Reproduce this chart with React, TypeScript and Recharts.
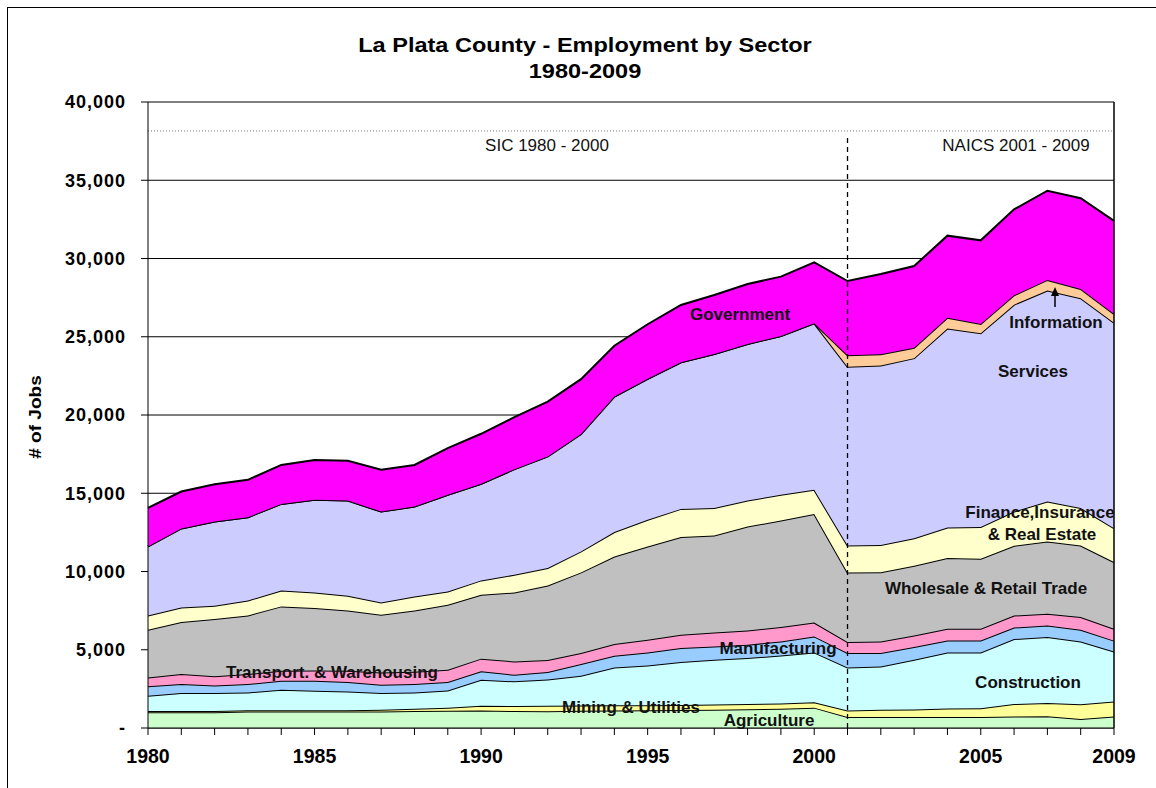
import React from 'react'
import {
  AreaChart, Area, XAxis, YAxis, CartesianGrid, ReferenceLine,
} from 'recharts'

// La Plata County employment by sector, 1980-2009 (jobs)
const years = [
  1980, 1981, 1982, 1983, 1984, 1985, 1986, 1987, 1988, 1989,
  1990, 1991, 1992, 1993, 1994, 1995, 1996, 1997, 1998, 1999,
  2000, 2001, 2002, 2003, 2004, 2005, 2006, 2007, 2008, 2009,
]

const agriculture = [
  1000, 1000, 1000, 1050, 1050, 1050, 1060, 1060, 1080, 1100,
  1120, 1080, 1070, 1100, 1120, 1130, 1150, 1170, 1200, 1230,
  1300, 700, 700, 710, 700, 700, 740, 750, 570, 740,
]
const mining = [
  80, 80, 80, 80, 80, 80, 80, 100, 150, 200,
  300, 330, 350, 330, 330, 330, 320, 330, 340, 340,
  340, 420, 460, 480, 540, 560, 790, 850, 940, 960,
]
const construction = [
  980, 1150, 1150, 1140, 1320, 1250, 1200, 1070, 1040, 1100,
  1660, 1570, 1680, 1910, 2420, 2540, 2740, 2860, 2930, 3070,
  3190, 2750, 2770, 3170, 3590, 3570, 4150, 4210, 4020, 3190,
]
const manufacturing = [
  600, 580, 490, 540, 570, 640, 600, 540, 540, 540,
  540, 420, 480, 750, 750, 830, 900, 850, 850, 890,
  1020, 920, 860, 810, 760, 760, 740, 740, 750, 690,
]
const transport = [
  570, 640, 580, 640, 640, 660, 720, 780, 790, 780,
  810, 850, 760, 700, 740, 810, 850, 890, 910, 920,
  890, 700, 740, 740, 750, 750, 770, 750, 810, 760,
]
const trade = [
  3050, 3320, 3660, 3740, 4110, 3980, 3850, 3690, 3910, 4150,
  4080, 4410, 4760, 5150, 5600, 5960, 6240, 6200, 6640, 6810,
  6930, 4450, 4430, 4450, 4520, 4470, 4450, 4620, 4570, 4260,
]
const fire = [
  910, 930, 850, 960, 1020, 1000, 940, 780, 890, 850,
  920, 1130, 1120, 1340, 1560, 1700, 1800, 1750, 1660, 1640,
  1550, 1720, 1730, 1770, 1950, 2030, 2190, 2550, 2390, 2170,
]
const services = [
  4410, 5050, 5380, 5320, 5530, 5920, 6080, 5810, 5750, 6180,
  6170, 6750, 7130, 7510, 8660, 9010, 9370, 9850, 10010, 10150,
  10640, 11430, 11470, 11500, 12710, 12380, 13220, 13480, 13410, 13130,
]
const information = [
  0, 0, 0, 0, 0, 0, 0, 0, 0, 0,
  0, 0, 0, 0, 0, 0, 0, 0, 0, 0,
  0, 730, 720, 670, 700, 600, 600, 680, 590, 560,
]
const government = [
  2460, 2360, 2390, 2390, 2490, 2550, 2540, 2670, 2660, 2980,
  3200, 3320, 3510, 3500, 3250, 3490, 3660, 3770, 3830, 3790,
  3900, 4740, 5130, 5220, 5240, 5340, 5490, 5700, 5800, 5940,
]

const yTicks = [0, 5000, 10000, 15000, 20000, 25000, 30000, 35000, 40000]
const labeledYears = [1980, 1985, 1990, 1995, 2000, 2005, 2009]

const series = [
  { key: 'agriculture', name: 'Agriculture', values: agriculture, fill: '#CCFFCC' },
  { key: 'mining', name: 'Mining & Utilities', values: mining, fill: '#FFFF99' },
  { key: 'construction', name: 'Construction', values: construction, fill: '#CCFFFF' },
  { key: 'manufacturing', name: 'Manufacturing', values: manufacturing, fill: '#99CCFF' },
  { key: 'transport', name: 'Transport. & Warehousing', values: transport, fill: '#FF99CC' },
  { key: 'trade', name: 'Wholesale & Retail Trade', values: trade, fill: '#C0C0C0' },
  { key: 'fire', name: 'Finance,Insurance & Real Estate', values: fire, fill: '#FFFFCC' },
  { key: 'services', name: 'Services', values: services, fill: '#CCCCFF' },
  { key: 'information', name: 'Information', values: information, fill: '#FFCC99' },
  { key: 'government', name: 'Government', values: government, fill: '#FF00FF' },
]

const data = years.map((year, i) => {
  const row: Record<string, number> = { year }
  series.forEach(s => { row[s.key] = s.values[i] })
  return row
})

const FONT = 'Arial, "Liberation Sans", sans-serif'

function fmtY(v: number) {
  if (v === 0) return '-'
  return v.toLocaleString('en-US')
}

// in-chart annotations (centre point in page pixels)
const notes = [
  { text: 'Government', x: 740, y: 314 },
  { text: 'Information', x: 1056, y: 322 },
  { text: 'Services', x: 1033, y: 371 },
  { text: 'Finance,Insurance', x: 1040, y: 512 },
  { text: '& Real Estate', x: 1042, y: 534 },
  { text: 'Wholesale & Retail Trade', x: 986, y: 588 },
  { text: 'Manufacturing', x: 778, y: 648 },
  { text: 'Transport. & Warehousing', x: 332, y: 672 },
  { text: 'Construction', x: 1028, y: 682 },
  { text: 'Mining & Utilities', x: 631, y: 707 },
  { text: 'Agriculture', x: 769, y: 720 },
]

const abs = (x: number, y: number): React.CSSProperties => ({
  position: 'absolute', left: x, top: y, transform: 'translate(-50%, -50%)',
  whiteSpace: 'nowrap', lineHeight: 1, fontFamily: FONT,
})

export default function App() {
  return (
    <div style={{ position: 'absolute', left: 0, top: 0, width: 1156, height: 788, overflow: 'hidden', background: '#fff' }}>
      {/* outer chart frame */}
      <div style={{ position: 'absolute', left: 7, top: 7, width: 1200, height: 850, border: '1px solid #000' }} />

      <AreaChart
        width={1156}
        height={788}
        data={data}
        margin={{ top: 102, right: 42, bottom: 0, left: 48 }}
        style={{ position: 'absolute', left: 0, top: 0 }}
      >
        <CartesianGrid vertical={false} stroke="#000" strokeWidth={1} />
        <XAxis
          dataKey="year"
          type="number"
          domain={[1980, 2009]}
          ticks={years}
          interval={0}
          height={60}
          tickSize={7}
          tickMargin={14}
          stroke="#000"
          tickFormatter={(v: number) => (labeledYears.includes(v) ? String(v) : '')}
          tick={{ fontSize: 19.5, fontWeight: 700, fill: '#000', fontFamily: FONT }}
        />
        <YAxis
          domain={[0, 40000]}
          ticks={yTicks}
          width={100}
          tickSize={7}
          tickMargin={15}
          stroke="#000"
          allowDataOverflow
          tickFormatter={fmtY}
          tick={{ fontSize: 18, fontWeight: 700, fill: '#000', fontFamily: FONT, letterSpacing: 1 }}
        />
        {series.map(s => (
          <Area
            key={s.key}
            type="linear"
            dataKey={s.key}
            name={s.name}
            stackId="jobs"
            fill={s.fill}
            fillOpacity={1}
            stroke="#000"
            strokeWidth={2}
            dot={false}
            activeDot={false}
            isAnimationActive={false}
          />
        ))}
        <ReferenceLine y={38150} stroke="#777" strokeDasharray="1 2" />
        <ReferenceLine
          segment={[{ x: 2001, y: 0 }, { x: 2001, y: 37700 }]}
          stroke="#000"
          strokeWidth={1.3}
          strokeDasharray="5 4"
        />
        <ReferenceLine x={2009} stroke="#000" strokeWidth={1.5} />
      </AreaChart>

      {/* title, a little stretched like the original */}
      <div style={{ ...abs(585, 44), fontSize: 21, fontWeight: 700, transform: 'translate(-50%, -50%) scaleX(1.12)' }}>
        La Plata County - Employment by Sector
      </div>
      <div style={{ ...abs(585, 70), fontSize: 21, fontWeight: 700, transform: 'translate(-50%, -50%) scaleX(1.12)' }}>
        1980-2009
      </div>

      {/* axis title */}
      <div style={{ ...abs(35, 417), fontSize: 17, fontWeight: 700, transform: 'translate(-50%, -50%) rotate(-90deg) scaleX(1.12)' }}>
        # of Jobs
      </div>

      {/* classification periods */}
      <div style={{ ...abs(547, 145), fontSize: 17, color: '#111' }}>SIC 1980 - 2000</div>
      <div style={{ ...abs(1016, 145), fontSize: 17, color: '#111' }}>NAICS 2001 - 2009</div>

      {notes.map(n => (
        <div key={n.text} style={{ ...abs(n.x, n.y), fontSize: 17, fontWeight: 700, color: '#111' }}>{n.text}</div>
      ))}

      {/* arrow from Information label to its band */}
      <svg width={1156} height={788} style={{ position: 'absolute', left: 0, top: 0, pointerEvents: 'none' }}>
        <line x1={1055} y1={307} x2={1055} y2={294} stroke="#000" strokeWidth={1.5} />
        <polygon points="1055,287 1051,296 1059,296" fill="#000" />
      </svg>
    </div>
  )
}
